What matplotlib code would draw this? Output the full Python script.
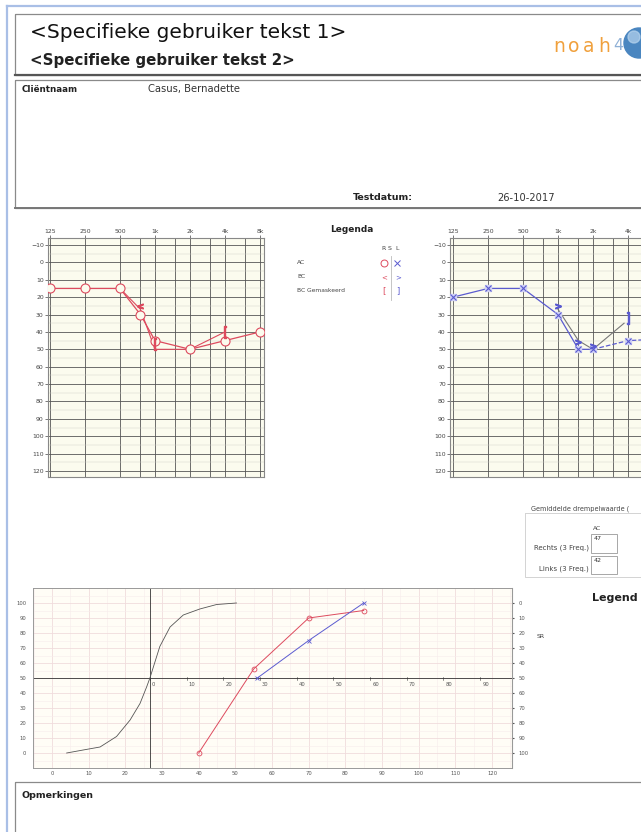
import matplotlib
matplotlib.use('Agg')
import matplotlib.pyplot as plt
from matplotlib.patches import Rectangle, Circle
import numpy as np

# ---------------- data ----------------
freq_ticks = [125, 250, 500, 1000, 2000, 4000, 8000]
freq_labels = ['125', '250', '500', '1k', '2k', '4k', '8k']
grid_freqs = [125, 250, 500, 750, 1000, 1500, 2000, 3000, 4000, 6000, 8000]
db_ticks = list(range(-10, 121, 10))

# right ear (red)
r_ac_freq = [125, 250, 500, 750, 1000, 2000, 4000, 8000]
r_ac_db = [15, 15, 15, 30, 45, 50, 45, 40]
r_bcline_freq = [500, 750, 1000, 2000, 4000]
r_bcline_db = [15, 27, 50, 50, 40]
r_bc_freq = [750]
r_bc_db = [25]
r_bcm_freq = [1000, 4000]
r_bcm_db = [47, 40]

# left ear (blue)
l_ac_freq = [125, 250, 500, 1000, 1500, 2000]
l_ac_db = [20, 15, 15, 30, 50, 50]
l_ac2_freq = [2000, 4000, 8000]
l_ac2_db = [50, 45, 44]
l_bcline_freq = [1000, 1500, 2000, 3700]
l_bcline_db = [27, 45, 50, 35]
l_bc_freq = [1000, 1500, 2000]
l_bc_db = [25, 46, 48]
l_bcm_freq = [4000]
l_bcm_db = [32]

# speech audiogram
sp_x_ticks = list(range(0, 121, 10))
sp_y_ticks = list(range(0, 101, 10))
ref_offset = 26.7                      # reference curve 50% point (dB)
ref_labels = list(range(0, 91, 10))
ref_x = [4.0, 8.5, 13.1, 17.6, 21.3, 24.0, 25.8, 26.7, 27.6, 29.4, 32.2, 35.8, 40.3, 44.9, 50.3]
ref_y = [0, 2, 4, 11, 22, 33, 44, 50, 57, 71, 84, 92, 96, 99, 100]
sp_r_x = [40, 55, 70, 85]
sp_r_y = [0, 56, 90, 95]
sp_l_x = [56, 70, 85]
sp_l_y = [50, 75, 100]

avg_right = '47'
avg_left = '42'

RED = '#dd4a5e'
BLUE = '#5b5bd0'

W, H = 641, 832
fig = plt.figure(figsize=(W / 100, H / 100), dpi=100)
fig.patch.set_facecolor('white')


def box(x0, y0, x1, y1):
    return [x0 / W, 1 - y1 / H, (x1 - x0) / W, (y1 - y0) / H]


bg = fig.add_axes([0, 0, 1, 1])
bg.set_xlim(0, W)
bg.set_ylim(H, 0)
bg.axis('off')

# outer light-blue frame
bg.plot([7, 7], [6, H], color='#a9bfe6', lw=1.6)
bg.plot([7, W], [6, 6], color='#a9bfe6', lw=1.6)

# header box
bg.add_patch(Rectangle((15, 14), 660, 61, fill=False, ec='#8a8a8a', lw=0.9))
bg.plot([15, W], [75, 75], color='#555555', lw=1.6)
bg.text(30, 32, '<Specifieke gebruiker tekst 1>', fontsize=14.5, va='center', color='#111111')
bg.text(30, 61, '<Specifieke gebruiker tekst 2>', fontsize=10.8, fontweight='bold',
        va='center', color='#222222')
for cx, ch in zip([559, 574, 589, 604], 'noah'):
    bg.text(cx, 46, ch, fontsize=13.5, ha='center', va='center', color='#f0a03c')
bg.text(618, 45, '4', fontsize=11.5, ha='center', va='center', color='#8fb0d6')
bg.add_patch(Circle((639, 43), 15, color='#4a86c0'))
bg.add_patch(Circle((634, 37), 6, color='#b7d4ee', alpha=0.7))

# client box
bg.add_patch(Rectangle((15, 80), 660, 128, fill=False, ec='#8a8a8a', lw=0.9))
bg.plot([15, W], [208, 208], color='#777777', lw=1.4)
bg.text(22, 89, 'Cliëntnaam', fontsize=6.3, fontweight='bold', va='center', color='#222222')
bg.text(148, 89, 'Casus, Bernadette', fontsize=7.2, va='center', color='#333333')
bg.text(353, 198, 'Testdatum:', fontsize=6.8, fontweight='bold', va='center', color='#222222')
bg.text(497, 198, '26-10-2017', fontsize=7.1, va='center', color='#333333')

# Legenda
bg.text(352, 229, 'Legenda', fontsize=6.5, fontweight='bold', ha='center', va='center', color='#222222')
for lx, lt in zip([384, 390, 397], ['R', 'S', 'L']):
    bg.text(lx, 249, lt, fontsize=4.5, ha='center', va='center', color='#444444')
for ly, lt in zip([263, 277, 291], ['AC', 'BC', 'BC Gemaskeerd']):
    bg.text(297, ly, lt, fontsize=4.3, va='center', color='#444444')
bg.plot([391, 391], [256, 300], color='#bbbbbb', lw=0.6)
bg.plot([384], [263], marker='o', ms=5, mfc='none', mec=RED, mew=0.7)
bg.plot([397], [263], marker='x', ms=4, color=BLUE, mew=0.7)
bg.text(384, 277, '<', fontsize=5, ha='center', va='center', color=RED)
bg.text(398, 277, '>', fontsize=5, ha='center', va='center', color=BLUE)
bg.text(384, 291, '[', fontsize=6, ha='center', va='center', color=RED)
bg.text(398, 291, ']', fontsize=6, ha='center', va='center', color=BLUE)

# average box
bg.text(531, 509, 'Gemiddelde drempelwaarde (', fontsize=4.7, va='center', color='#444444')
bg.add_patch(Rectangle((525, 513), 140, 64, fill=False, ec='#cccccc', lw=0.6))
bg.text(593, 529, 'AC', fontsize=4.3, va='center', color='#444444')
bg.text(589, 548, 'Rechts (3 Freq.)', fontsize=5.0, ha='right', va='center', color='#444444')
bg.text(589, 569, 'Links (3 Freq.)', fontsize=5.0, ha='right', va='center', color='#444444')
bg.add_patch(Rectangle((591, 534), 26, 19, fill=False, ec='#999999', lw=0.6))
bg.add_patch(Rectangle((591, 556), 26, 18, fill=False, ec='#999999', lw=0.6))
bg.text(594, 539, avg_right, fontsize=4.5, va='center', color='#333333')
bg.text(594, 561, avg_left, fontsize=4.5, va='center', color='#333333')

bg.text(592, 598, 'Legend', fontsize=8, fontweight='bold', va='center', color='#222222')
bg.text(537, 637, 'SR', fontsize=4.5, va='center', color='#444444')

# remarks box
bg.add_patch(Rectangle((15, 782), 660, 70, fill=False, ec='#8a8a8a', lw=0.9))
bg.text(22, 795, 'Opmerkingen', fontsize=6.8, fontweight='bold', va='center', color='#222222')


# ---------------- audiograms ----------------
def audiogram(L, R, p125, nlab):
    ax = fig.add_axes(box(L, 238, R, 477))
    ax.set_xscale('log', base=2)
    ax.set_xlim(125 * 2 ** ((L - p125) / 35), 125 * 2 ** ((R - p125) / 35))
    ax.set_ylim(120 + 6 / 1.738, -10 - 7 / 1.738)
    ax.set_facecolor('#fbfbee')
    ax.xaxis.tick_top()
    ax.set_xticks(freq_ticks[:nlab])
    ax.set_xticklabels(freq_labels[:nlab])
    ax.xaxis.set_minor_locator(matplotlib.ticker.NullLocator())
    ax.set_yticks(db_ticks)
    ax.tick_params(labelsize=4.4, length=2, pad=1, colors='#444444', width=0.5)
    for f in grid_freqs:
        ax.axvline(f, color='#555555', lw=0.6, zorder=1)
    for d in db_ticks:
        ax.axhline(d, color='#555555', lw=0.6, zorder=1)
        ax.axhline(d + 5, color='#cfcfc6', lw=0.3, zorder=1)
    for s in ax.spines.values():
        s.set_color('#888888')
        s.set_linewidth(0.8)
    return ax


axR = audiogram(48, 264, 50, 7)
axR.plot(r_bcline_freq, r_bcline_db, color=RED, lw=0.8, zorder=3)
axR.plot(r_ac_freq, r_ac_db, color=RED, lw=0.9, marker='o', ms=6.5, mfc='#fbfbee',
         mec=RED, mew=0.8, zorder=4)
axR.plot(r_bc_freq, r_bc_db, ls='none', marker='$<$', ms=4, color=RED, zorder=5)
axR.plot(r_bcm_freq, r_bcm_db, ls='none', marker='$[$', ms=8, color=RED, zorder=5)

axL = audiogram(450, 666, 453, 6)
axL.plot(l_bcline_freq, l_bcline_db, color='#777777', lw=0.8, zorder=3)
axL.plot(l_ac_freq, l_ac_db, color=BLUE, lw=0.9, zorder=4)
axL.plot(l_ac2_freq, l_ac2_db, color=BLUE, lw=0.9, ls='--', zorder=4)
axL.plot(l_ac_freq + l_ac2_freq[1:], l_ac_db + l_ac2_db[1:], ls='none', marker='s', ms=5,
         mfc='#cfd0f5', mec='#cfd0f5', zorder=4)
axL.plot(l_ac_freq + l_ac2_freq[1:], l_ac_db + l_ac2_db[1:], ls='none', marker='x', ms=4,
         color=BLUE, mew=0.8, zorder=5)
axL.plot(l_bc_freq, l_bc_db, ls='none', marker='$>$', ms=4, color=BLUE, zorder=5)
axL.plot(l_bcm_freq, l_bcm_db, ls='none', marker='$]$', ms=8, color=BLUE, zorder=5)

# ---------------- speech audiogram ----------------
ax = fig.add_axes(box(33, 588, 512, 768))
ax.set_xlim((33 - 52) / 3.667, (512 - 52) / 3.667)
ax.set_ylim(-10, 110)
ax.set_facecolor('#fffdf6')
ax.set_xticks(sp_x_ticks)
ax.set_yticks(sp_y_ticks)
ax.set_xticks(np.arange(-5, 126, 5), minor=True)
ax.set_yticks(np.arange(-10, 111, 5), minor=True)
ax.grid(which='major', color='#f0dcdc', lw=0.6)
ax.grid(which='minor', color='#f7ecec', lw=0.4)
ax.set_axisbelow(True)
ax.tick_params(which='both', length=0)
ax.tick_params(labelsize=3.8, colors='#555555', pad=2)
ax.tick_params(axis='y', pad=5)
for s in ax.spines.values():
    s.set_color('#999999')
    s.set_linewidth(0.7)

sec = ax.secondary_yaxis('right', functions=(lambda y: 100 - y, lambda y: 100 - y))
sec.set_yticks(sp_y_ticks)
sec.tick_params(labelsize=3.8, colors='#555555', length=1.5, pad=3)
sec.spines['right'].set_color('#999999')

ax.axvline(ref_offset, color='#333333', lw=0.6)
ax.axhline(50, color='#333333', lw=0.6)
for v in ref_labels:
    ax.plot([ref_offset + v] * 2, [49, 51], color='#333333', lw=0.4)
    ax.text(ref_offset + v + 0.6, 47, str(v), fontsize=3.8, color='#555555', ha='left', va='top')

ax.plot(ref_x, ref_y, color='#555555', lw=0.6)
ax.plot(sp_r_x, sp_r_y, color=RED, lw=0.7, marker='o', ms=3.5, mfc='none', mec=RED, mew=0.6)
ax.plot(sp_l_x, sp_l_y, color=BLUE, lw=0.7, marker='x', ms=3.5, mew=0.6)

fig.savefig('out.png', dpi=100)
